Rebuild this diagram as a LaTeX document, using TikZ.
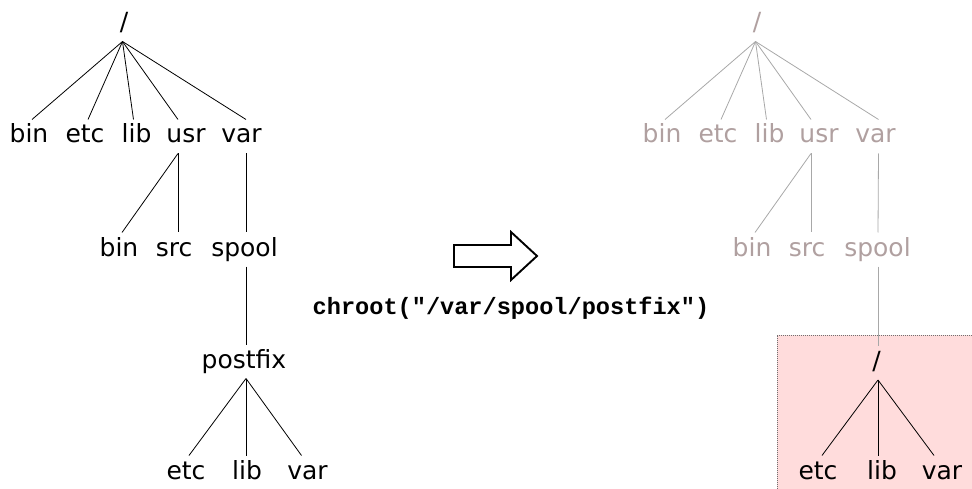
\documentclass[tikz,border=0pt]{standalone}
\usepackage{fontspec}
\setmainfont{DejaVu Sans}
\newfontfamily\codefont{Liberation Mono}
\definecolor{fadetext}{HTML}{B0A0A0}
\definecolor{fadeline}{HTML}{A8A8A8}
\definecolor{jailfill}{HTML}{FFDCDC}
\definecolor{jailedge}{HTML}{707070}
\tikzset{
  lbl/.style={font=\fontsize{25}{30}\selectfont, inner sep=0pt, outer sep=4.5pt,
              text height=19pt, text depth=6pt, anchor=base},
  faded/.style={lbl, text=fadetext},
  edge/.style={line width=0.8pt, black},
  fadeedge/.style={line width=0.8pt, fadeline},
  jail/.style={fill=jailfill, draw=jailedge, line width=0.8pt, dash pattern=on 1pt off 1pt},
  bigarrow/.style={draw=black, line width=1.9pt, line join=miter, fill=white},
  cmd/.style={font=\codefont\bfseries\fontsize{23.6}{28}\selectfont, inner sep=0pt, anchor=base}
}
\begin{document}
\begin{tikzpicture}[x=1pt,y=-1pt]
\useasboundingbox (0,0) rectangle (972,489);

% ---------- left tree ----------
\node[lbl] (r)  at (124,31) {/};
\node[lbl] (a1) at (29,143) {bin};
\node[lbl] (a2) at (85,143) {etc};
\node[lbl] (a3) at (136.5,143) {lib};
\node[lbl] (a4) at (186,143) {usr};
\node[lbl] (a5) at (241.5,143) {var};
\node[lbl] (b1) at (119,256) {bin};
\node[lbl] (b2) at (174,256) {src};
\node[lbl] (b3) at (244.5,256) {spool};
\node[lbl] (c1) at (244,368) {postfix};
\node[lbl] (d1) at (186,479) {etc};
\node[lbl] (d2) at (247,479) {lib};
\node[lbl] (d3) at (307.5,479) {var};

\draw[edge] ([xshift=-1.5pt]r.south) -- ([xshift=3pt]a1.north);
\draw[edge] ([xshift=-1.5pt]r.south) -- ([xshift=3pt]a2.north);
\draw[edge] ([xshift=-1.5pt]r.south) -- ([xshift=-3pt]a3.north);
\draw[edge] ([xshift=-1.5pt]r.south) -- ([xshift=-8pt]a4.north);
\draw[edge] ([xshift=-1.5pt]r.south) -- ([xshift=4.5pt]a5.north);
\draw[edge] ([xshift=-8pt]a4.south) -- ([xshift=3pt]b1.north);
\draw[edge] ([xshift=-8pt]a4.south) -- ([xshift=4pt]b2.north);
\draw[edge] ([xshift=4.5pt]a5.south) -- ([xshift=1.5pt]b3.north);
\draw[edge] ([xshift=1.5pt]b3.south) -- ([xshift=2pt]c1.north);
\draw[edge] ([xshift=2pt]c1.south) -- ([xshift=3pt]d1.north);
\draw[edge] ([xshift=2pt]c1.south) -- ([xshift=-1pt]d2.north);
\draw[edge] ([xshift=2pt]c1.south) -- ([xshift=-6pt]d3.north);

% ---------- arrow and call ----------
\draw[bigarrow] (454,245) -- (511,245) -- (511,232) -- (537,256)
   -- (511,280) -- (511,267) -- (454,267) -- cycle;
\node[cmd] (call) at (511,314) {chroot("/var/spool/postfix")};

% ---------- jail box ----------
\draw[jail] (777,495) -- (777,335) -- (980,335) -- (980,495) -- cycle;

% ---------- right tree ----------
\node[faded] (rr)  at (757,31) {/};
\node[faded] (ra1) at (662,143) {bin};
\node[faded] (ra2) at (718,143) {etc};
\node[faded] (ra3) at (769.5,143) {lib};
\node[faded] (ra4) at (819,143) {usr};
\node[faded] (ra5) at (875.5,143) {var};
\node[faded] (rb1) at (752,256) {bin};
\node[faded] (rb2) at (807,256) {src};
\node[faded] (rb3) at (877.5,256) {spool};

\draw[fadeedge] ([xshift=-1.5pt]rr.south) -- ([xshift=3pt]ra1.north);
\draw[fadeedge] ([xshift=-1.5pt]rr.south) -- ([xshift=3pt]ra2.north);
\draw[fadeedge] ([xshift=-1.5pt]rr.south) -- ([xshift=-3pt]ra3.north);
\draw[fadeedge] ([xshift=-1.5pt]rr.south) -- ([xshift=-8pt]ra4.north);
\draw[fadeedge] ([xshift=-1.5pt]rr.south) -- ([xshift=3pt]ra5.north);
\draw[fadeedge] ([xshift=-8pt]ra4.south) -- ([xshift=3pt]rb1.north);
\draw[fadeedge] ([xshift=-8pt]ra4.south) -- ([xshift=4pt]rb2.north);
\draw[fadeedge] ([xshift=3pt]ra5.south) -- ([xshift=0.5pt]rb3.north);

\node[lbl] (s)  at (876.7,369.5) {/};
\node[lbl] (e1) at (818,479) {etc};
\node[lbl] (e2) at (882,479) {lib};
\node[lbl] (e3) at (942,479) {var};

\draw[fadeedge] ([xshift=0.5pt]rb3.south) -- ([xshift=1.3pt]s.north);
\draw[edge] ([xshift=1.3pt]s.south) -- ([xshift=4pt]e1.north);
\draw[edge] ([xshift=1.3pt]s.south) -- ([xshift=-4pt]e2.north);
\draw[edge] ([xshift=1.3pt]s.south) -- ([xshift=-8pt]e3.north);
\end{tikzpicture}
\end{document}
